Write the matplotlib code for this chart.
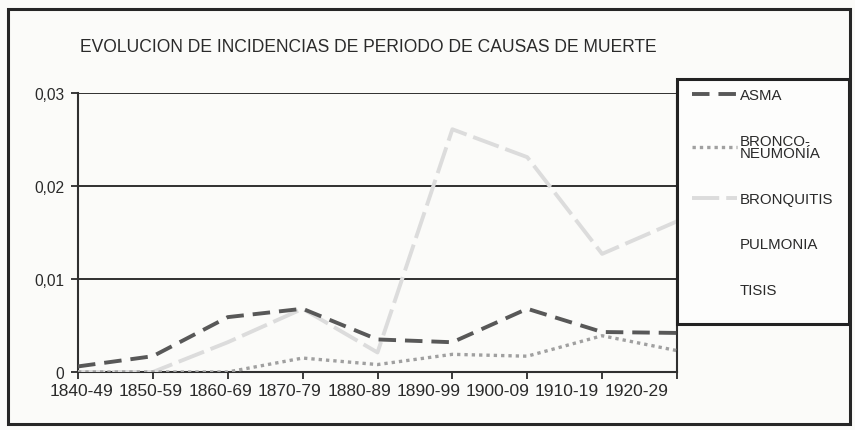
import matplotlib
matplotlib.use("Agg")
import matplotlib.pyplot as plt
from matplotlib.lines import Line2D
from matplotlib.patches import Rectangle
from matplotlib.ticker import FuncFormatter

periodos = ["1840-49", "1850-59", "1860-69", "1870-79", "1880-89",
            "1890-99", "1900-09", "1910-19", "1920-29"]
asma = [0.0006, 0.0017, 0.0059, 0.0068, 0.0035, 0.0032, 0.0068, 0.0043, 0.0042]
bronconeumonia = [0.0, 0.0, 0.0, 0.0015, 0.0008, 0.0019, 0.0017, 0.0039, 0.0023]
bronquitis = [0.0, 0.0, 0.0032, 0.0068, 0.0021, 0.0261, 0.0231, 0.0127, 0.0162]
yticks = [0, 0.01, 0.02, 0.03]

plt.rcParams['font.family'] = ['Liberation Sans', 'DejaVu Sans']

fig = plt.figure(figsize=(8.55, 4.31), dpi=100, facecolor='#fbfbf9')
ax = fig.add_axes([78/855, 1-373/431, (677-78)/855, (373-94)/431])
ax.set_facecolor('none')

x = list(range(len(periodos)))
ax.plot(x, bronquitis, color='#dcdcdc', lw=2.8, dashes=(7, 1.8), zorder=3)
ax.plot(x, bronconeumonia, color='#a0a0a0', lw=2.4, dashes=(1, 1.2), zorder=4)
ax.plot(x, asma, color='#585858', lw=2.8, dashes=(4.5, 2.3), zorder=5)

ax.set_xlim(0, len(periodos)-1)
ax.set_ylim(0, 0.03)
# tick marks at the points; the scanned labels sit a little tighter than the ticks
ax.set_xticks(x)
ax.set_xticklabels([])
ax.set_xticks([0.05 + 0.926*i for i in x], minor=True)
ax.set_xticklabels(periodos, minor=True, fontsize=12.5, color='#2a2a2a')
ax.tick_params(axis='x', which='minor', length=0, pad=8)
ax.set_yticks(yticks)
ax.yaxis.set_major_formatter(FuncFormatter(lambda v, p: '0' if v == 0 else f'{v:.2f}'.replace('.', ',')))
ax.tick_params(axis='y', labelsize=11.2, colors='#2a2a2a', length=5, width=1.3, pad=5)
ax.tick_params(axis='x', which='major', length=5, width=1.3, colors='#2a2a2a')
ax.grid(axis='y', color='#303030', lw=1.4)
ax.set_axisbelow(True)
ax.spines['top'].set_visible(False)
for s in ['left', 'bottom', 'right']:
    ax.spines[s].set_color('#303030')
    ax.spines[s].set_linewidth(1.5)

fig.text(80/855, 1-47/431, 'EVOLUCION DE INCIDENCIAS DE PERIODO DE CAUSAS DE MUERTE',
         fontsize=12.65, color='#2a2a2a', va='center', ha='left')

# outer frame
fig.patches.append(Rectangle((8/855, 1-425/431), 842/855, 415/431, transform=fig.transFigure,
                             fill=False, edgecolor='#262626', lw=2.2, zorder=10))
# legend box
fig.patches.append(Rectangle((677/855, 1-325/431), 172/855, 245/431, transform=fig.transFigure,
                             facecolor='#fdfdfc', edgecolor='#222222', lw=2.2, zorder=9))

handles = [
    Line2D([], [], color='#585858', lw=2.8, dashes=(4.5, 2.3)),
    Line2D([], [], color='#a0a0a0', lw=2.4, dashes=(1, 1.2)),
    Line2D([], [], color='#dcdcdc', lw=2.8, dashes=(7, 1.8)),
    Line2D([], [], color='#fdfdfc', lw=2.8),
    Line2D([], [], color='#fdfdfc', lw=2.8),
]
labels = ['ASMA', 'BRONCO-\nNEUMONÍA', 'BRONQUITIS', 'PULMONIA', 'TISIS']
leg = fig.legend(handles, labels, loc='upper left', bbox_to_anchor=(692/855, 1-89/431),
                 fontsize=10.8, frameon=False, handlelength=3.0,
                 handletextpad=0.2, labelspacing=2.1, borderpad=0, borderaxespad=0)
leg.set_zorder(11)
for t in leg.get_texts():
    t.set_color('#2a2a2a')
    t.set_linespacing(0.9)

fig.savefig('out.png', dpi=100, facecolor=fig.get_facecolor())
